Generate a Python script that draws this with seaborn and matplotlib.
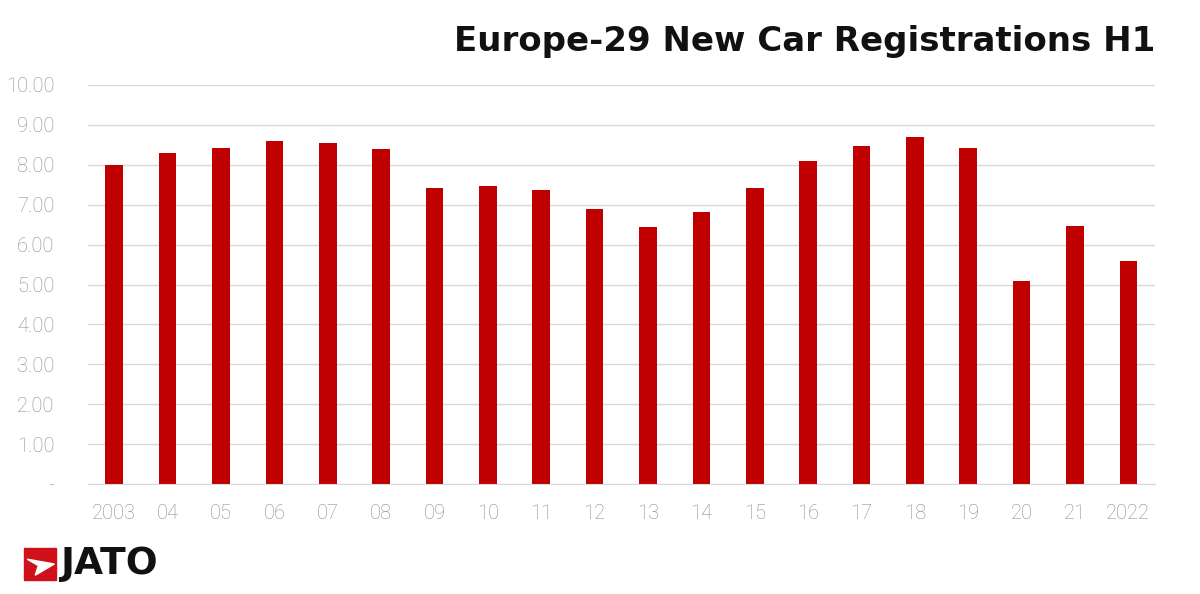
import matplotlib
matplotlib.use("Agg")
import matplotlib.pyplot as plt
import seaborn as sns
import pandas as pd
from matplotlib.patches import Rectangle, Polygon

years = ["2003","04","05","06","07","08","09","10","11","12","13","14","15","16","17","18","19","20","21","2022"]
values = [8.00,8.29,8.42,8.60,8.55,8.40,7.42,7.47,7.37,6.89,6.44,6.82,7.42,8.10,8.47,8.70,8.42,5.09,6.47,5.59]
yticks = [0,1,2,3,4,5,6,7,8,9,10]
ylabels = ["-"] + [f"{v:.2f}" for v in yticks[1:]]

df = pd.DataFrame({"year": years, "value": values})
fig = plt.figure(figsize=(12, 5.94), dpi=100)
ax = fig.add_axes([0.073, 0.185, 0.8895, 0.672])
sns.barplot(data=df, x="year", y="value", color="#C00000", saturation=1, width=0.33, ax=ax)
ax.set_ylim(0, 10)
ax.set_yticks(yticks)
ax.set_yticklabels(ylabels)
ax.set_xlim(-0.5, len(years)-0.5)
ax.set_xlabel(""); ax.set_ylabel("")
ax.grid(axis="y", color="#d9d9d9", linewidth=1)
ax.set_axisbelow(True)
for s in ax.spines.values():
    s.set_visible(False)
ax.spines["bottom"].set_visible(True)
ax.spines["bottom"].set_color("#d9d9d9")
ax.tick_params(length=0, labelsize=14.5, colors="#8c8c8c")
ax.tick_params(axis="x", pad=14)
ax.tick_params(axis="y", pad=24)
for t in ax.get_yticklabels() + ax.get_xticklabels():
    t.set_fontfamily("Roboto")
    t.set_fontweight("light")

fig.text(0.9625, 0.93, "Europe-29 New Car Registrations H1", ha="right", va="center",
         fontsize=24.5, fontweight="bold", family="DejaVu Sans", color="#111111")
# logo
lx, ly, w, h = 24/1200, (594-580)/594, 32/1200, 32/594
fig.patches.append(Rectangle((lx, ly), w, h, transform=fig.transFigure, color="#D0101A"))
fig.patches.append(Polygon([(lx+0.1*w, ly+0.65*h), (lx+0.95*w, ly+0.5*h), (lx+0.35*w, ly+0.15*h), (lx+0.45*w, ly+0.45*h)],
                           closed=True, transform=fig.transFigure, color="white"))
fig.text(60/1200, ly + h/2, "JATO", ha="left", va="center", fontsize=27, fontweight="bold",
         family="DejaVu Sans", color="#111111")
fig.savefig("out.png", dpi=100, facecolor="white")
